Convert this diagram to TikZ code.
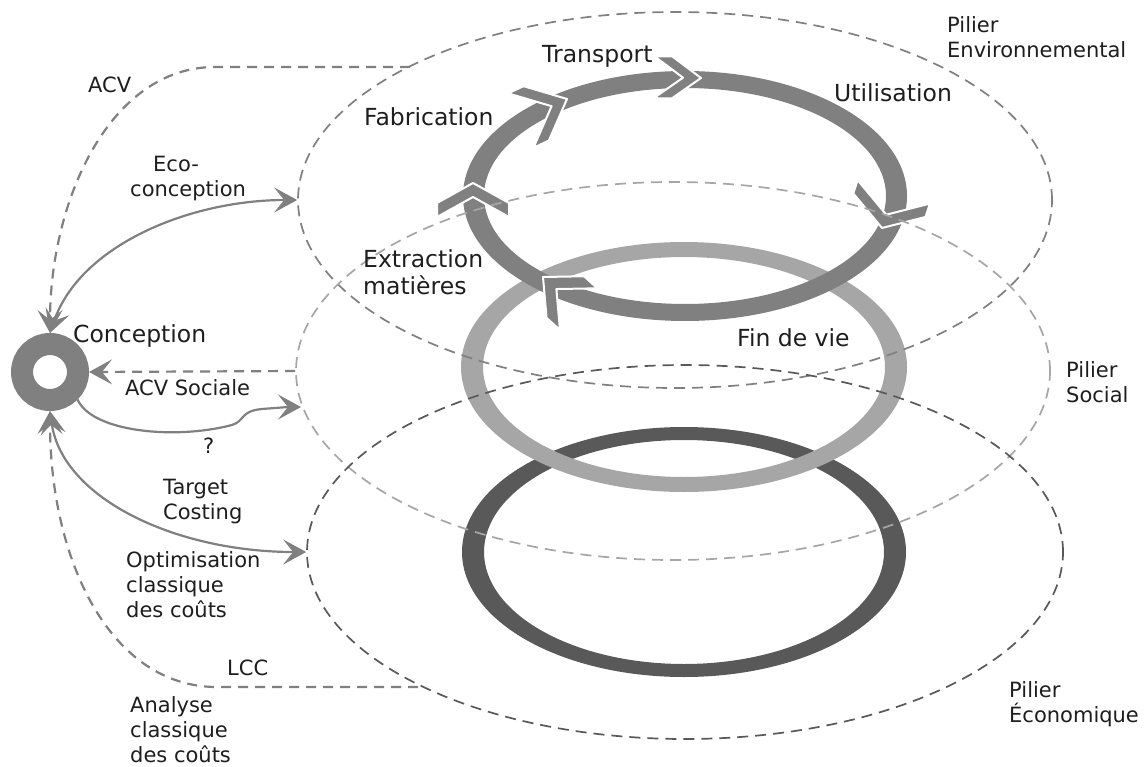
\documentclass[tikz,border=0pt]{standalone}
\usepackage{fontspec}
\setmainfont{DejaVu Sans}
\usetikzlibrary{shapes.geometric,arrows.meta,calc}
\definecolor{midgray}{HTML}{808080}
\definecolor{lightgrayb}{HTML}{A6A6A6}
\definecolor{darkgrayb}{HTML}{595959}
\definecolor{txt}{HTML}{1E1E1E}
\newcommand\chevr[5]{%
  \filldraw[fill=midgray, draw=white, line width=2pt, line join=round]
   ($(#1)+(#2+180:#3)+(#2+90:#4)$) -- (#1) -- ($(#1)+(#2+180:#3)+(#2-90:#4)$)
   -- ($(#1)+(#2+180:#3+#5)+(#2-90:#4)$) -- ($(#1)+(#2+180:#5)$)
   -- ($(#1)+(#2+180:#3+#5)+(#2+90:#4)$) -- cycle;}
\tikzset{bigtip/.tip={Stealth[length=23pt,width=25pt,inset=10pt]}}
\begin{document}
\begin{tikzpicture}[x=1pt,y=-1pt,
  small/.style={font=\fontsize{21}{25}\selectfont, text=txt, inner sep=0pt},
  big/.style={font=\fontsize{23.5}{27}\selectfont, text=txt, inner sep=0pt},
  pillar/.style={ellipse, line width=1.7pt, dash pattern=on 11pt off 7pt, inner sep=0pt},
  dlink/.style={draw=midgray, line width=2.2pt, dash pattern=on 10pt off 7pt, -bigtip},
  slink/.style={draw=midgray, line width=2.2pt, -bigtip},
  blink/.style={draw=midgray, line width=2.2pt, bigtip-bigtip}]
\fill[white] (0,0) rectangle (1147,767);
\useasboundingbox (0,0) rectangle (1147,767);

% rings
\fill[darkgrayb, even odd rule] (684,552) ellipse [x radius=222pt, y radius=125pt]
  (684,552) ellipse [x radius=200pt, y radius=112pt];
\fill[lightgrayb, even odd rule] (684,367) ellipse [x radius=223pt, y radius=125pt]
  (684,367) ellipse [x radius=201pt, y radius=110pt];
\fill[midgray, even odd rule] (685,196) ellipse [x radius=222pt, y radius=125pt]
  (685,196) ellipse [x radius=201pt, y radius=108pt];
\chevr{473,183}{270}{20}{36}{14}
\chevr{567,99}{335}{34}{30}{17}
\chevr{701,78}{1}{29}{21}{18}
\chevr{882,228}{108}{24}{38}{14}
\chevr{543,277}{222}{30}{28}{18}

% pillars
\node[pillar, draw=midgray, minimum width=754pt, minimum height=376pt] (env) at (675,200) {};
\node[pillar, draw=lightgrayb, minimum width=754pt, minimum height=378pt] (soc) at (673,371) {};
\node[pillar, draw=darkgrayb, minimum width=756pt, minimum height=374pt] (eco) at (685,552) {};

% conception
\node[circle, draw=midgray, line width=22pt, minimum size=56pt, inner sep=0pt] (conc) at (50,372) {};

\coordinate (acvs) at (410,67);
\coordinate (acvk) at (215,67);
\coordinate (qend) at (301,407);
\coordinate (lccs) at (418,687);
\coordinate (lcck) at (217,687);

\draw[dlink] (acvs) -- (acvk) .. controls (110,67) and (50,200) .. (conc.north);
\draw[blink] (conc.north) .. controls (80,245) and (190,200) .. (env.west);
\draw[dlink] (soc.west) -- (conc.east);
\draw[slink] (conc.south east) .. controls (92,432) and (175,440) .. (232,425)
  .. controls (245,421) and (240,411) .. (262,409)
  .. controls (275,408) and (288,407) .. (qend);
\draw[blink] (conc.south) .. controls (62,498) and (175,552) .. (eco.west);
\draw[dlink] (lccs) -- (lcck) .. controls (110,687) and (50,560) .. (conc.south);

% labels
\node[small, anchor=base west] (lacv) at (88,93) {ACV};
\node[small, anchor=north west, align=left] (leco) at (130,156) {\hspace*{23pt}Eco-\\conception};
\node[big, anchor=base west] (lconc) at (73,342) {Conception};
\node[small, anchor=base west] (lacvs) at (125,395) {ACV Sociale};
\node[small, anchor=base west] (lq) at (203,453) {?};
\node[small, anchor=north west, align=left] (ltc) at (163,479) {Target\\Costing};
\node[small, anchor=north west, align=left] (lopt) at (126,551) {Optimisation\\classique\\des coûts};
\node[small, anchor=base west] (llcc) at (227,675) {LCC};
\node[small, anchor=north west, align=left] (lana) at (130,696) {Analyse\\classique\\des coûts};
\node[big, anchor=base west] (lfab) at (364,126) {Fabrication};
\node[big, anchor=base west] (ltra) at (542,63) {Transport};
\node[big, anchor=base west] (luti) at (834,102) {Utilisation};
\node[big, anchor=north west, align=left] (lext) at (363,249) {Extraction\\matières};
\node[big, anchor=base west] (lfin) at (737,346) {Fin de vie};
\node[small, anchor=north west, align=left] (lpenv) at (947,16) {Pilier\\Environnemental};
\node[small, anchor=north west, align=left] (lpsoc) at (1066,361) {Pilier\\Social};
\node[small, anchor=north west, align=left] (lpeco) at (1009,681) {Pilier\\Économique};
\end{tikzpicture}
\end{document}
